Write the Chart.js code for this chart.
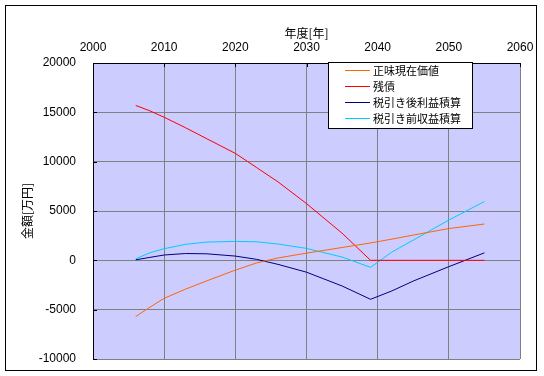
<!DOCTYPE html>
<html><head><meta charset="utf-8">
<script src="https://cdn.jsdelivr.net/npm/chart.js@4/dist/chart.umd.min.js"></script>
<style>html,body{margin:0;padding:0;background:#fff;}#wrap{width:544px;height:376px;}</style>
</head><body><div id="wrap"><canvas id="c" width="544" height="376"></canvas></div>
<script>
// Data
const years = [2006, 2008, 2010, 2013, 2016, 2020, 2023, 2026, 2030, 2035, 2039, 2042, 2045, 2050, 2055];
const netPresentValue   = [-5700, -4750, -3850, -2920, -2080, -990, -260, 240, 730, 1300, 1760, 2150, 2560, 3220, 3680];
const remainingDebt     = [15700, 15150, 14500, 13440, 12320, 10840, 9400, 7950, 5750, 2750, 0, 0, 0, 0, 0];
const profitAfterTax    = [50, 300, 540, 690, 660, 430, 100, -410, -1200, -2600, -3950, -3100, -2100, -640, 760];
const incomeBeforeTax   = [150, 770, 1180, 1620, 1850, 1920, 1880, 1650, 1210, 330, -710, 840, 2050, 4080, 5960];
const seriesNames  = ['正味現在価値', '残債', '税引き後利益積算', '税引き前収益積算'];
const seriesColors = ['#FF6600', '#FF0000', '#000080', '#00CCFF'];
const xTickLabels = [2000, 2010, 2020, 2030, 2040, 2050, 2060];
const yTickLabels = [-10000, -5000, 0, 5000, 10000, 15000, 20000];
const xTitle = '年度[年]';
const yTitle = '金額[万円]';

const seriesValues = [netPresentValue, remainingDebt, profitAfterTax, incomeBeforeTax];
const toPoints = vals => years.map((x, i) => ({x: x, y: vals[i]}));

const frame = {
  id: 'frame',
  beforeDraw(chart) {
    const {ctx, chartArea: a} = chart;
    ctx.save();
    ctx.fillStyle = '#ffffff';
    ctx.fillRect(0, 0, chart.width, chart.height);
    ctx.strokeStyle = '#000000';
    ctx.lineWidth = 1;
    ctx.strokeRect(5.5, 5.5, 531, 365);
    ctx.fillStyle = '#CCCCFF';
    ctx.fillRect(a.left, a.top, a.right - a.left, a.bottom - a.top);
    ctx.restore();
  },
  afterDatasetsDraw(chart) {
    const {ctx, chartArea: a, scales} = chart;
    ctx.save();
    ctx.strokeStyle = '#000000';
    ctx.lineWidth = 1;
    ctx.beginPath();
    scales.y.ticks.forEach(t => {
      const y = Math.round(scales.y.getPixelForValue(t.value)) + 0.5;
      ctx.moveTo(a.left, y); ctx.lineTo(a.left + 4, y);
    });
    scales.x.ticks.forEach(t => {
      const x = Math.round(scales.x.getPixelForValue(t.value)) + 0.5;
      ctx.moveTo(x, a.top); ctx.lineTo(x, a.top + 4);
    });
    ctx.stroke();
    ctx.restore();
  },
  afterDraw(chart) {
    const ctx = chart.ctx;
    const bx = 328.5, by = 62.5, bw = 144, bh = 66;
    ctx.save();
    ctx.fillStyle = '#ffffff';
    ctx.fillRect(bx, by, bw, bh);
    ctx.strokeStyle = '#000000';
    ctx.lineWidth = 1;
    ctx.strokeRect(bx, by, bw, bh);
    ctx.font = '11px "Noto Sans CJK JP"';
    ctx.textBaseline = 'middle';
    ctx.textAlign = 'left';
    chart.data.datasets.forEach((ds, i) => {
      const y = 70.5 + i * 16;
      ctx.strokeStyle = ds.borderColor;
      ctx.beginPath();
      ctx.moveTo(345, y); ctx.lineTo(370, y);
      ctx.stroke();
      ctx.fillStyle = '#000000';
      ctx.fillText(ds.label, 373, y);
    });
    ctx.restore();
  }
};

new Chart(document.getElementById('c'), {
  type: 'line',
  data: {
    datasets: seriesNames.map((name, i) => ({
      label: name,
      data: toPoints(seriesValues[i]),
      borderColor: seriesColors[i],
      backgroundColor: seriesColors[i],
      borderWidth: 1,
      pointRadius: 0,
      tension: 0,
      fill: false
    }))
  },
  options: {
    responsive: false,
    devicePixelRatio: 1,
    animation: false,
    layout: {padding: {left: 0, top: 1, right: 24, bottom: 17}},
    plugins: {legend: {display: false}, tooltip: {enabled: false}},
    scales: {
      x: {
        type: 'linear', position: 'top',
        min: xTickLabels[0], max: xTickLabels[xTickLabels.length - 1],
        afterBuildTicks: s => { s.ticks = xTickLabels.map(v => ({value: v})); },
        afterFit: s => { s.height = 62; s.paddingLeft = 0; s.paddingRight = 0; },
        ticks: {color: '#000', font: {family: '"Liberation Sans"', size: 12}, padding: 8, maxRotation: 0, autoSkip: false,
                callback: v => String(v)},
        grid: {color: '#808080', lineWidth: 1, drawTicks: false},
        border: {color: '#000', width: 1},
        title: {display: true, text: xTitle, color: '#000', font: {family: '"Noto Sans CJK JP"', size: 12}, padding: {top: 25, bottom: 0}}
      },
      y: {
        type: 'linear', position: 'left',
        min: yTickLabels[0], max: yTickLabels[yTickLabels.length - 1],
        afterBuildTicks: s => { s.ticks = yTickLabels.map(v => ({value: v})); },
        afterFit: s => { s.width = 93; s.paddingTop = 0; s.paddingBottom = 0; },
        ticks: {color: '#000', font: {family: '"Liberation Sans"', size: 12}, padding: 17, autoSkip: false,
                callback: v => String(v)},
        grid: {color: '#808080', lineWidth: 1, drawTicks: false},
        border: {color: '#000', width: 1},
        title: {display: true, text: yTitle, color: '#000', font: {family: '"Noto Sans CJK JP"', size: 12}, padding: {top: 20, bottom: 0}}
      }
    }
  },
  plugins: [frame]
});
</script>
</body></html>
